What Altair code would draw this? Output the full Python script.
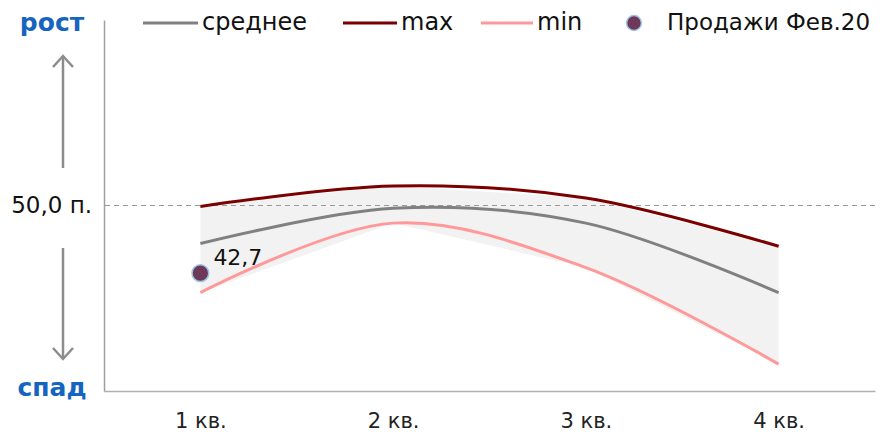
import altair as alt
import pandas as pd

quarters = ["1 кв.", "2 кв.", "3 кв.", "4 кв."]
avg_vals = [45.9, 49.7, 48.1, 40.6]
max_vals = [49.9, 52.1, 50.8, 45.6]
min_vals = [40.6, 48.1, 43.3, 32.9]
sale_quarter = ["1 кв."]
sale_vals = [42.7]
sale_labels = ["42,7"]
ref_value = 50.0
ref_label = "50,0 п."

FONT = "DejaVu Sans"

df = pd.DataFrame({"q": quarters, "avg": avg_vals, "mx": max_vals, "mn": min_vals})
sale_df = pd.DataFrame({"q": sale_quarter, "v": sale_vals, "lbl": sale_labels})

xenc = alt.X("q:N", sort=quarters, scale=alt.Scale(paddingInner=0, paddingOuter=0),
             axis=alt.Axis(title=None, labelAngle=0, ticks=False, labelFontSize=21,
                           labelColor="#222222", labelFont=FONT, labelPadding=19,
                           domainColor="#b0b0b0", domainWidth=1.5, grid=False))
yscale = alt.Scale(domain=[30, 70])
yaxis = alt.Axis(title=None, labels=False, ticks=False, grid=False,
                 domainColor="#a0a0a0", domainWidth=1.5)

base = alt.Chart(df)

band = base.mark_area(color="#f2f2f2", interpolate="linear").encode(
    x=xenc, y=alt.Y("mx:Q", scale=yscale, axis=yaxis), y2="mn:Q")

rule = alt.Chart(pd.DataFrame({"v": [ref_value]})).mark_rule(
    color="#999999", strokeDash=[5, 4], strokeWidth=1.2).encode(y=alt.Y("v:Q", scale=yscale))

def line(field, color):
    return base.mark_line(color=color, strokeWidth=3, interpolate="catmull-rom").encode(
        x=alt.X("q:N", sort=quarters), y=alt.Y(f"{field}:Q", scale=yscale))

l_avg = line("avg", "#808080")
l_max = line("mx", "#7b0000")
l_min = line("mn", "#ff9999")

pt = alt.Chart(sale_df).mark_point(filled=True, size=280, fill="#6e3959",
                                   stroke="#9dc3e6", strokeWidth=1.5, opacity=1).encode(
    x=alt.X("q:N", sort=quarters), y=alt.Y("v:Q", scale=yscale))
pt_lbl = alt.Chart(sale_df).mark_text(align="left", baseline="middle", dx=13, dy=-15,
                                      fontSize=22, font=FONT, color="#111111").encode(
    x=alt.X("q:N", sort=quarters), y=alt.Y("v:Q", scale=yscale), text="lbl:N")

ref_txt = alt.Chart(pd.DataFrame({"v": [ref_value], "t": [ref_label]})).mark_text(
    align="right", fontSize=23, font=FONT, color="#111111", baseline="middle").encode(
    x=alt.value(-12), y=alt.Y("v:Q", scale=yscale), text="t:N")

# side decorations
blue = "#1565c0"
grey = "#8c8c8c"
deco = alt.Chart(pd.DataFrame({"a": [0]}))
rost = deco.mark_text(text="рост", fontSize=25, fontWeight="bold", font=FONT, color=blue,
                      baseline="middle").encode(x=alt.value(-52), y=alt.value(3))
spad = deco.mark_text(text="спад", fontSize=25, fontWeight="bold", font=FONT, color=blue,
                      baseline="middle").encode(x=alt.value(-52), y=alt.value(368))
up_line = deco.mark_rule(color=grey, strokeWidth=2.5).encode(
    x=alt.value(-41), y=alt.value(36), y2=alt.value(148))
dn_line = deco.mark_rule(color=grey, strokeWidth=2.5).encode(
    x=alt.value(-41), y=alt.value(228), y2=alt.value(339))
up_head = deco.mark_point(shape="M-1,1.1L0,0L1,1.1", size=400, stroke=grey, strokeWidth=2.5,
                          filled=False, opacity=1).encode(x=alt.value(-41), y=alt.value(36))
dn_head = deco.mark_point(shape="M-1,-1.1L0,0L1,-1.1", size=400, stroke=grey, strokeWidth=2.5,
                          filled=False, opacity=1).encode(x=alt.value(-41), y=alt.value(339))

# legend
leg_items = [("среднее", "#808080", 39, 94), ("max", "#7b0000", 239, 293), ("min", "#ff9999", 377, 429)]
leg_layers = []
for name, col, x0, x1 in leg_items:
    leg_layers.append(deco.mark_rule(color=col, strokeWidth=3).encode(
        x=alt.value(x0), x2=alt.value(x1), y=alt.value(3)))
    leg_layers.append(deco.mark_text(text=name, align="left", baseline="middle", fontSize=24,
                                     font=FONT, color="#111111").encode(
        x=alt.value(x1 + 4), y=alt.value(3)))
leg_layers.append(deco.mark_point(filled=True, size=220, fill="#6e3959", stroke="#9dc3e6",
                                  strokeWidth=1.5, opacity=1).encode(x=alt.value(530), y=alt.value(3)))
leg_layers.append(deco.mark_text(text="Продажи Фев.20", align="left", baseline="middle",
                                 fontSize=23, font=FONT, color="#111111").encode(
    x=alt.value(563), y=alt.value(3)))

chart = alt.layer(band, rule, l_max, l_avg, l_min, pt, pt_lbl, ref_txt,
                  rost, spad, up_line, dn_line, up_head, dn_head, *leg_layers).properties(
    width=771, height=371,
    padding={"left": 96, "top": 12, "right": 7, "bottom": 40},
    autosize=alt.AutoSizeParams(type="none"),
).configure_view(stroke=None)

chart.save("out.html", embed_options={"renderer": "svg", "actions": False})
